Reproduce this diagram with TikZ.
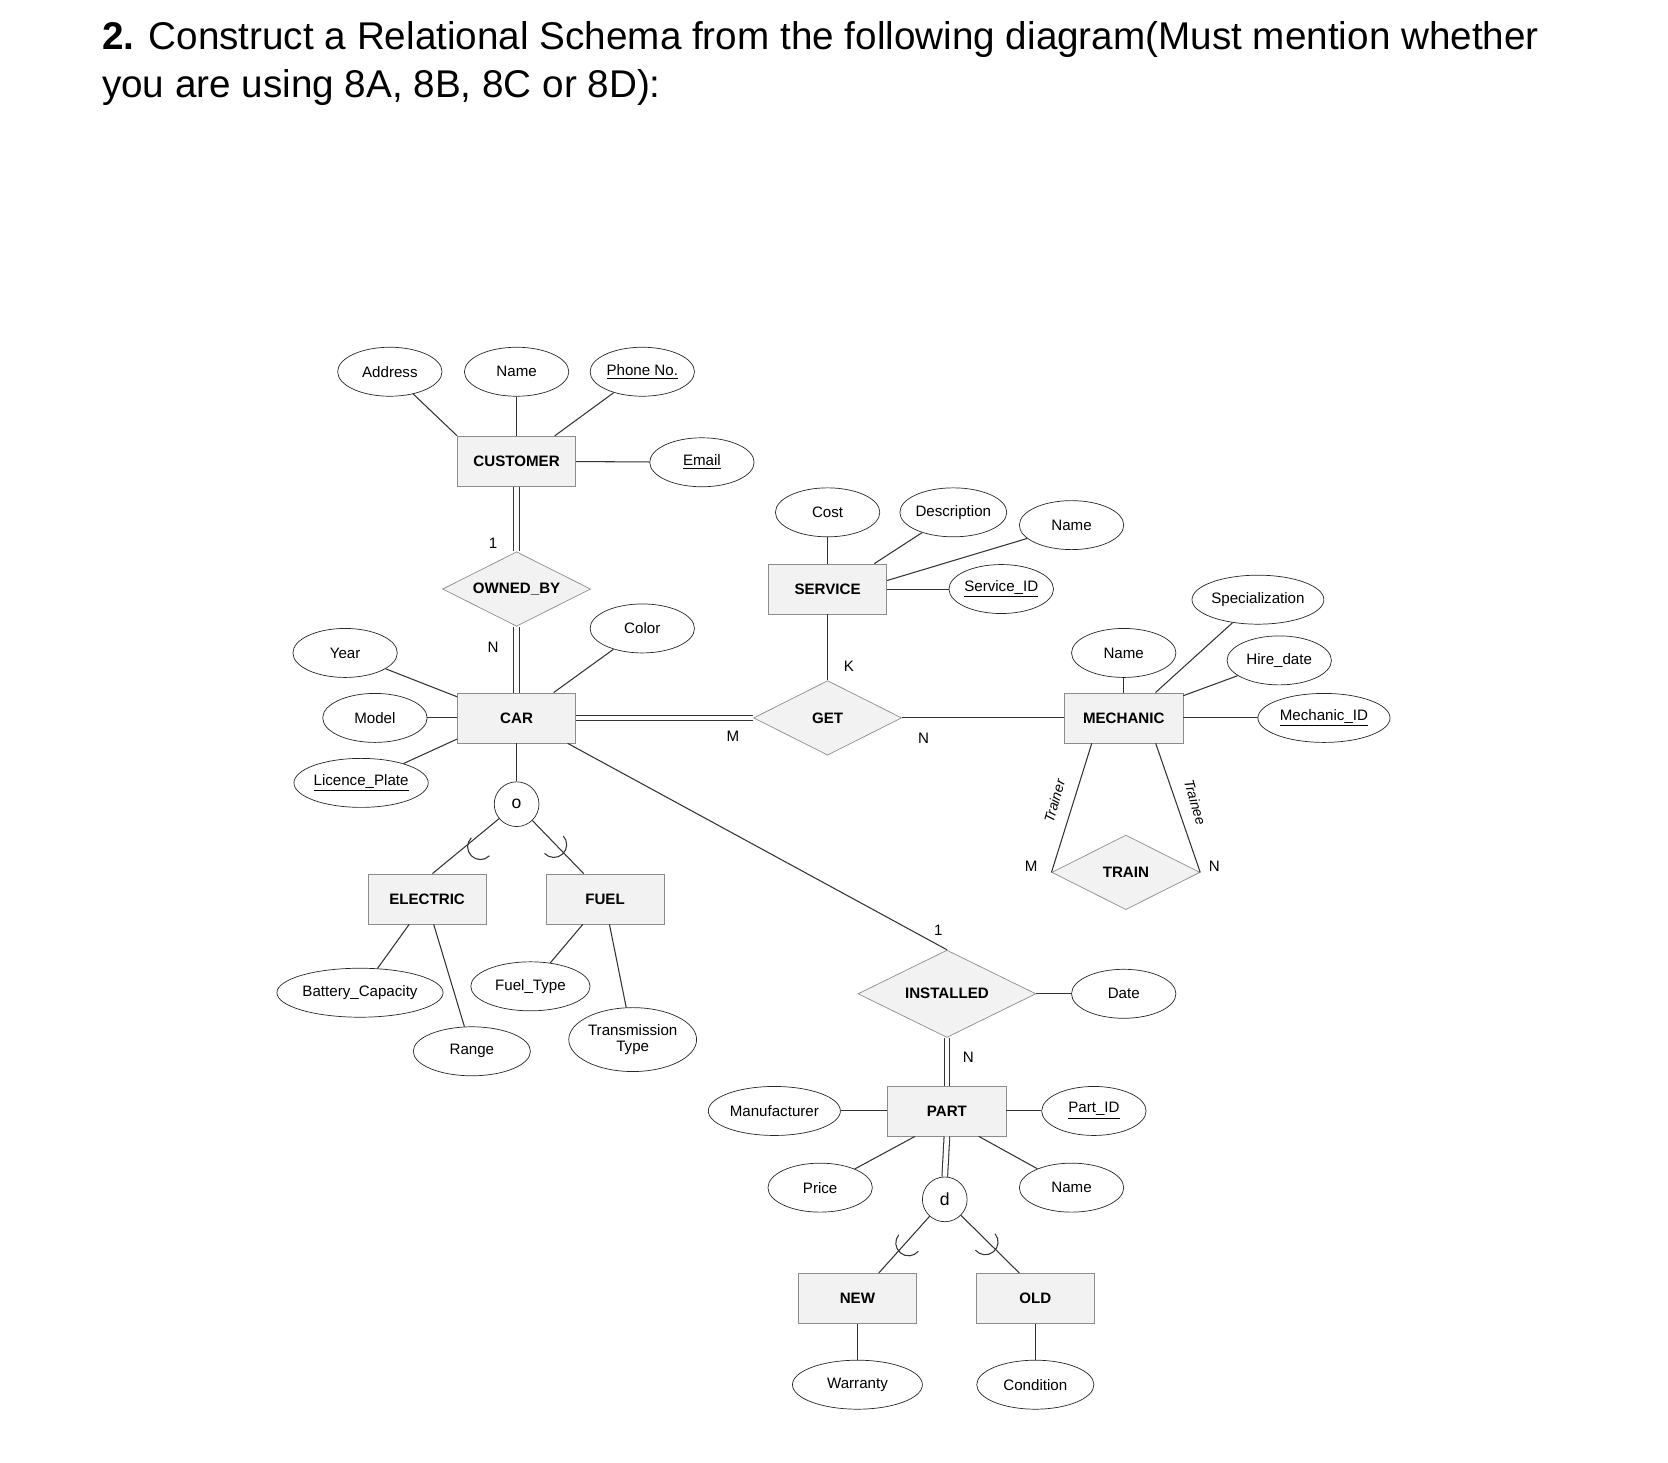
\documentclass[tikz,border=0pt]{standalone}
\usepackage{fontspec}
\setmainfont{Liberation Sans}
\usetikzlibrary{shapes.geometric,calc}
\begin{document}
\begin{tikzpicture}[x=0.0213cm,y=-0.0213cm,
  every node/.style={font=\fontsize{8.6}{10}\selectfont},
  ent/.style={draw=black!45,fill=black!5,minimum width=111*0.0213cm,minimum height=47*0.0213cm,inner sep=0pt,font=\fontsize{8.6}{10}\selectfont\bfseries},
  rel/.style={diamond,draw=black!45,fill=black!5,aspect=2,minimum width=139*0.0213cm,minimum height=70*0.0213cm,inner sep=0pt,font=\fontsize{8.6}{10}\selectfont\bfseries},
  att/.style={ellipse,draw=black!85,minimum width=98*0.0213cm,minimum height=46*0.0213cm,inner sep=0pt},
  circ/.style={circle,draw=black!85,minimum size=42*0.0213cm,inner sep=0pt,font=\fontsize{10}{12}\selectfont},
  ln/.style={draw=black!80,line width=0.6pt},
  dbl/.style={draw=black!80,double,double distance=2.6pt,line width=0.6pt},
  card/.style={font=\fontsize{8.6}{10}\selectfont}]
\useasboundingbox (0,0) rectangle (1566,1373);
\node[anchor=base west,font=\fontsize{22}{26}\selectfont] (t1) at (90,46) {\textbf{2.} Construct a Relational Schema from the following diagram(Must mention whether};
\node[anchor=base west,font=\fontsize{22}{26}\selectfont] (t2) at (90,92) {you are using 8A, 8B, 8C or 8D):};

% entities
\node[ent] (cust) at (485,433) {CUSTOMER};
\node[ent] (car) at (485,674) {CAR};
\node[ent] (elec) at (401,844) {ELECTRIC};
\node[ent] (fuel) at (568,844) {FUEL};
\node[ent] (serv) at (777,553) {SERVICE};
\node[ent] (mech) at (1055,674) {MECHANIC};
\node[ent] (part) at (889,1043) {PART};
\node[ent] (new) at (805,1219) {NEW};
\node[ent] (old) at (972,1219) {OLD};
% relationships
\node[rel] (own) at (485,553) {OWNED\_BY};
\node[rel] (get) at (777,674) {GET};
\node[rel,minimum width=167*0.0213cm,minimum height=82*0.0213cm] (inst) at (889,933) {INSTALLED};
\node[rel] (train) at (1057,819) {TRAIN};
% circles
\node[circ] (o) at (485,755) {o};
\node[circ] (d) at (887,1126) {d};
% attributes
\node[att] (addr) at (366,349) {Address};
\node[att] (cname) at (485,349) {Name};
\node[att] (phone) at (603,349) {\underline{Phone No.}};
\node[att] (email) at (659,434) {\underline{Email}};
\node[att] (cost) at (777,481) {Cost};
\node[att,minimum width=95*0.0213cm] (desc) at (895,481) {Description};
\node[att] (sname) at (1006,493) {Name};
\node[att] (sid) at (940,553) {\underline{Service\_ID}};
\node[att] (color) at (603,590) {Color};
\node[att] (year) at (324,613) {Year};
\node[att] (model) at (352,674) {Model};
\node[att,minimum width=126*0.0213cm] (lic) at (339,735) {\underline{Licence\_Plate}};
\node[att,minimum width=118*0.0213cm] (spec) at (1181,563) {Specialization};
\node[att] (mname) at (1055,613) {Name};
\node[att] (hire) at (1201,620) {Hire\_date};
\node[att,minimum width=124*0.0213cm] (mid) at (1243,674) {\underline{Mechanic\_ID}};
\node[att,minimum width=156*0.0213cm] (bat) at (338,932) {Battery\_Capacity};
\node[att,minimum width=110*0.0213cm] (range) at (443,987) {Range};
\node[att,minimum width=112*0.0213cm] (ftype) at (498,926) {Fuel\_Type};
\node[att,minimum width=120*0.0213cm,minimum height=60*0.0213cm,align=center,font=\fontsize{8.6}{9.5}\selectfont] (trans) at (594,976) {Transmission\\Type};
\node[att] (date) at (1055,933) {Date};
\node[att] (pid) at (1027,1043) {\underline{Part\_ID}};
\node[att,minimum width=124*0.0213cm] (manu) at (727,1043) {Manufacturer};
\node[att] (price) at (770,1115) {Price};
\node[att] (pname) at (1006,1115) {Name};
\node[att,minimum width=122*0.0213cm] (warr) at (805,1300) {Warranty};
\node[att,minimum width=110*0.0213cm] (cond) at (972,1300) {Condition};

% attribute lines
\draw[ln] (addr) -- (cust.north west);
\draw[ln] (cname) -- (cust);
\draw[ln] (phone) -- ($(cust.north east)+(-20,0)$);
\draw[ln] (email) -- (cust);
\draw[ln] (cost) -- (serv);
\draw[ln] (desc) -- ($(serv.north east)+(-12,0)$);
\draw[ln] (sname) -- ($(serv.east)+(0,-8)$);
\draw[ln] (sid) -- (serv);
\draw[ln] (color) -- ($(car.north east)+(-21,0)$);
\draw[ln] (year) -- ($(car.north west)+(0,4)$);
\draw[ln] (model) -- (car);
\draw[ln] (lic) -- ($(car.south west)+(0,-4)$);
\draw[ln] (spec) -- ($(mech.north east)+(-26,0)$);
\draw[ln] (mname) -- (mech);
\draw[ln] (hire) -- ($(mech.north east)+(0,3)$);
\draw[ln] (mid) -- (mech);
\draw[ln] (bat) -- ($(elec.south west)+(39,0)$);
\draw[ln] (range) -- ($(elec.south west)+(62,0)$);
\draw[ln] (ftype) -- ($(fuel.south west)+(35,0)$);
\draw[ln] (trans) -- ($(fuel.south west)+(60,0)$);
\draw[ln] (date) -- (inst);
\draw[ln] (pid) -- (part);
\draw[ln] (manu) -- (part);
\draw[ln] (price) -- ($(part.south west)+(26,0)$);
\draw[ln] (pname) -- ($(part.south east)+(-26,0)$);
\draw[ln] (warr) -- (new);
\draw[ln] (cond) -- (old);

% relationship lines
\draw[dbl] (cust.south) -- (own.north);
\draw[dbl] (own.south) -- (car.north);
\draw[dbl] (car) -- (get);
\draw[ln] (get) -- (serv);
\draw[ln] (get) -- (mech);
\draw[ln] ($(car.south east)+(-8,0)$) -- (inst.north);
\draw[dbl] (inst.south) -- (part.north);
\draw[ln] ($(mech.south)+(-30,0)$) -- (train.west);
\draw[ln] ($(mech.south)+(30,0)$) -- (train.east);
% specialization
\draw[ln] (car) -- (o);
\draw[ln] (o) -- ($(elec.north)+(5,0)$);
\draw[ln] (o) -- ($(fuel.north)+(-20,0)$);
\draw[dbl] (part.south) -- (d.north);
\draw[ln] (d) -- ($(new.north)+(20,0)$);
\draw[ln] (d) -- ($(old.north)+(-15,0)$);
% cups
\coordinate (c1) at (451,795); \coordinate (c2) at (520,793);
\coordinate (c3) at (853,1167); \coordinate (c4) at (925,1166);
\draw[ln] (c1) ++(45:12) arc[start angle=45,end angle=225,radius=12];
\draw[ln] (c2) ++(-43:12) arc[start angle=-43,end angle=137,radius=12];
\draw[ln] (c3) ++(40:12) arc[start angle=40,end angle=220,radius=12];
\draw[ln] (c4) ++(-40:12) arc[start angle=-40,end angle=140,radius=12];

% cardinalities
\node[card] (k1) at (463,510) {1};
\node[card] (k2) at (463,608) {N};
\node[card] (k3) at (797,626) {K};
\node[card] (k4) at (688,691) {M};
\node[card] (k5) at (867,693) {N};
\node[card] (k6) at (881,873) {1};
\node[card] (k7) at (909,993) {N};
\node[card] (k8) at (968,813) {M};
\node[card] (k9) at (1140,813) {N};
\node[font=\fontsize{8}{9}\selectfont\itshape,rotate=74] (trn) at (990,752) {Trainer};
\node[font=\fontsize{8}{9}\selectfont\itshape,rotate=-74] (tre) at (1122,753) {Trainee};
\end{tikzpicture}
\end{document}
